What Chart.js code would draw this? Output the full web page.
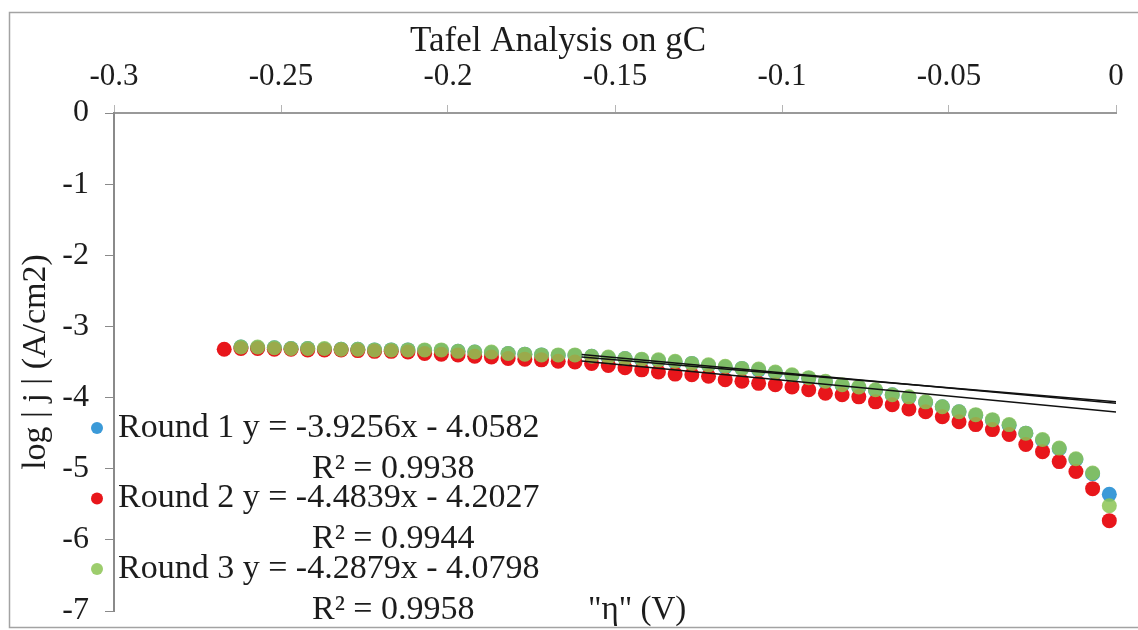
<!DOCTYPE html>
<html>
<head>
<meta charset="utf-8">
<title>Tafel Analysis on gC</title>
<script src="https://cdn.jsdelivr.net/npm/chart.js@4.4.1/dist/chart.umd.min.js"></script>
<style>
  html, body { margin: 0; padding: 0; background: #fff; }
  #wrap { width: 1138px; height: 630px; }
</style>
</head>
<body>
<div id="wrap"><canvas id="tafelChart" width="1138" height="630"></canvas></div>
<script>
"use strict";

// overpotential (V) - round 1 and 3 share the same potentials, round 2 has one extra point
const etaRound13 = [
    -0.262, -0.257, -0.252, -0.247, -0.242, -0.237, -0.232, -0.227, -0.222, -0.217, -0.212,
    -0.207, -0.202, -0.197, -0.192, -0.187, -0.182, -0.177, -0.172, -0.167, -0.162, -0.157,
    -0.152, -0.147, -0.142, -0.137, -0.132, -0.127, -0.122, -0.117, -0.112, -0.107, -0.102,
    -0.097, -0.092, -0.087, -0.082, -0.077, -0.072, -0.067, -0.062, -0.057, -0.052, -0.047,
    -0.042, -0.037, -0.032, -0.027, -0.022, -0.017, -0.012, -0.007, -0.002
];
const etaRound2 = [-0.267].concat(etaRound13);

// log |j| (A/cm2)
const logjRound1 = [
    -3.29, -3.30, -3.30, -3.31, -3.31, -3.32, -3.32, -3.32, -3.33, -3.33, -3.33,
    -3.34, -3.34, -3.35, -3.36, -3.37, -3.38, -3.39, -3.40, -3.41, -3.41, -3.42, -3.44,
    -3.45, -3.47, -3.48, -3.50, -3.52, -3.55, -3.57, -3.59, -3.61, -3.65, -3.69, -3.73, -3.78,
    -3.83, -3.86, -3.90, -3.96, -4.00, -4.07, -4.13, -4.20, -4.25, -4.32,
    -4.39, -4.50, -4.60, -4.72, -4.87, -5.07, -5.36
];
const logjRound2 = [
    -3.32,
    -3.31, -3.31, -3.32, -3.32, -3.33, -3.33, -3.33, -3.34, -3.35, -3.35, -3.36,
    -3.38, -3.39, -3.40, -3.42, -3.43, -3.45, -3.46, -3.47, -3.49, -3.50, -3.52, -3.55,
    -3.58, -3.61, -3.64, -3.67, -3.68, -3.70, -3.75, -3.77, -3.80, -3.82, -3.85, -3.89, -3.94,
    -3.96, -3.99, -4.06, -4.10, -4.16, -4.20, -4.27, -4.34, -4.38, -4.45,
    -4.52, -4.66, -4.76, -4.90, -5.04, -5.28, -5.73
];
const logjRound3 = [
    -3.29, -3.29, -3.30, -3.31, -3.31, -3.31, -3.32, -3.32, -3.33, -3.33, -3.33,
    -3.33, -3.33, -3.35, -3.36, -3.36, -3.38, -3.39, -3.40, -3.40, -3.40, -3.42, -3.43,
    -3.45, -3.46, -3.47, -3.49, -3.52, -3.54, -3.56, -3.59, -3.60, -3.64, -3.68, -3.72, -3.77,
    -3.82, -3.85, -3.89, -3.96, -3.99, -4.06, -4.13, -4.20, -4.24, -4.31,
    -4.38, -4.50, -4.59, -4.71, -4.86, -5.06, -5.52
];

// linear trendlines, end points of the fitted region
const trendEta = [-0.16, 0];
const trendRound1 = [-3.430, -4.058];
const trendRound2 = [-3.485, -4.203];
const trendRound3 = [-3.394, -4.080];

// tick labels
const xTickLabels = ["-0.3", "-0.25", "-0.2", "-0.15", "-0.1", "-0.05", "0"];
const yTickLabels = ["-7", "-6", "-5", "-4", "-3", "-2", "-1", "0"];

// legend texts
const seriesNames = ["Round 1", "Round 2", "Round 3"];
const fitEquations = ["y = -3.9256x - 4.0582", "y = -4.4839x - 4.2027", "y = -4.2879x - 4.0798"];
const fitR2 = ["0.9938", "0.9944", "0.9958"];
const seriesColors = ["#3b9ad8", "#e8161b", "rgba(140, 196, 84, 0.85)"];

const serif = '"Liberation Serif", "Times New Roman", serif';
const textColor = "#1c1c1c";

function toPoints(xs, ys) {
    return xs.map((x, i) => ({ x: x, y: ys[i] }));
}

// frame, legend and the bottom axis label
const tafelDecor = {
    id: "tafelDecor",
    beforeDraw(chart) {
        const c = chart.ctx;
        c.save();
        c.fillStyle = "#fff";
        c.fillRect(0, 0, chart.width, chart.height);
        c.strokeStyle = "#a3a3a3";
        c.lineWidth = 1.5;
        c.strokeRect(9.5, 12.5, chart.width, chart.height - 15);
        c.restore();
    },
    afterDraw(chart) {
        const c = chart.ctx;
        c.save();
        c.font = "34px " + serif;
        c.textBaseline = "middle";
        for (let i = 0; i < seriesNames.length; i++) {
            const rowY = 428 + i * 70.5;
            c.beginPath();
            c.arc(97, rowY, 6, 0, Math.PI * 2);
            c.fillStyle = seriesColors[i];
            c.fill();
            c.fillStyle = textColor;
            c.fillText(seriesNames[i] + " " + fitEquations[i], 118, rowY);
            c.fillText("R\u00b2 = " + fitR2[i], 312, rowY + 41);
        }
        c.font = "33px " + serif;
        c.fillText('"\u03b7" (V)', 588, 610);
        c.restore();
    }
};

const ctx = document.getElementById("tafelChart");
new Chart(ctx, {
    type: "scatter",
    data: {
        datasets: [
            { label: "Round 1 fit", data: toPoints(trendEta, trendRound1), showLine: true, borderColor: "#111", borderWidth: 1.6, pointRadius: 0, order: 0 },
            { label: "Round 2 fit", data: toPoints(trendEta, trendRound2), showLine: true, borderColor: "#111", borderWidth: 1.6, pointRadius: 0, order: 0 },
            { label: "Round 3 fit", data: toPoints(trendEta, trendRound3), showLine: true, borderColor: "#111", borderWidth: 1.6, pointRadius: 0, order: 0 },
            { label: "Round 3", data: toPoints(etaRound13, logjRound3), backgroundColor: seriesColors[2], borderWidth: 0, pointRadius: 7.5, clip: 12, order: 1 },
            { label: "Round 2", data: toPoints(etaRound2, logjRound2), backgroundColor: seriesColors[1], borderWidth: 0, pointRadius: 7.5, clip: 12, order: 2 },
            { label: "Round 1", data: toPoints(etaRound13, logjRound1), backgroundColor: seriesColors[0], borderWidth: 0, pointRadius: 7.5, clip: 12, order: 3 }
        ]
    },
    options: {
        responsive: false,
        animation: false,
        layout: { padding: { left: 0, right: 22, top: 0, bottom: 19 } },
        plugins: {
            legend: { display: false },
            tooltip: { enabled: false },
            title: {
                display: true,
                text: "Tafel Analysis on gC",
                color: textColor,
                font: { family: serif, size: 35, weight: "normal" },
                padding: { top: 21, bottom: 0 }
            }
        },
        scales: {
            x: {
                type: "linear",
                position: "top",
                min: -0.3,
                max: 0,
                ticks: {
                    stepSize: 0.05,
                    color: textColor,
                    font: { family: serif, size: 31 },
                    padding: 10,
                    maxRotation: 0,
                    callback: (value, index) => xTickLabels[index]
                },
                grid: { drawOnChartArea: false, tickLength: 8, color: "#b5b5b5" },
                border: { color: "#999", width: 2 },
                afterFit(scale) {
                    scale.height = 50;
                    scale.paddingLeft = 0;
                    scale.paddingRight = 0;
                }
            },
            y: {
                min: -7,
                max: 0,
                ticks: {
                    stepSize: 1,
                    color: textColor,
                    font: { family: serif, size: 32 },
                    padding: 16,
                    callback: (value, index) => yTickLabels[index]
                },
                grid: { drawOnChartArea: false, tickLength: 9, color: "#8a8a8a" },
                border: { color: "#8a8a8a", width: 2 },
                title: {
                    display: true,
                    text: "log | j | (A/cm2)",
                    color: textColor,
                    font: { family: serif, size: 34 },
                    padding: { top: 16, bottom: 0 }
                },
                afterFit(scale) {
                    scale.width = 114;
                    scale.paddingTop = 0;
                    scale.paddingBottom = 0;
                }
            }
        }
    },
    plugins: [tafelDecor]
});
</script>
</body>
</html>
